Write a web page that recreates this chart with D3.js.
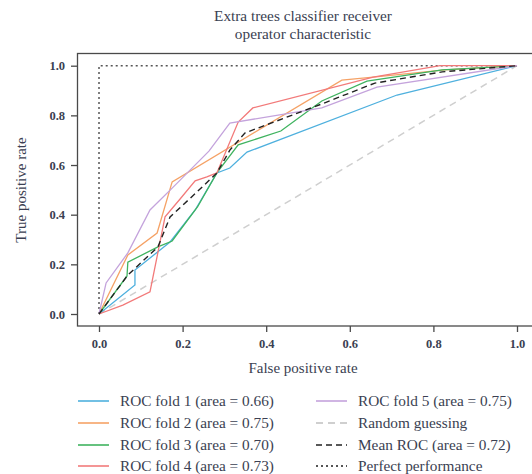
<!DOCTYPE html>
<html>
<head>
<style>
  body, html { margin: 0; padding: 0; background: #fff; }
  svg { display: block; }
  text { font-family: "Liberation Serif", "DejaVu Serif", serif; fill: #3b3f52; }
</style>
</head>
<body>
<svg id="svg" width="532" height="474"></svg>
<script src="https://d3js.org/d3.v7.min.js"></script>
<script>
// ROC curves, [false positive rate, true positive rate]
const fold1 = [[0,0],[0.086,0.117],[0.086,0.177],[0.170,0.290],[0.230,0.419],[0.282,0.568],
  [0.313,0.588],[0.354,0.652],[0.713,0.882],[1,1]]
const fold2 = [[0,0],[0.069,0.238],[0.139,0.326],[0.175,0.532],[0.581,0.942],[0.656,0.954],
  [0.828,0.983],[1,1]]
const fold3 = [[0,0],[0.067,0.153],[0.069,0.209],[0.141,0.270],[0.175,0.294],[0.236,0.432],
  [0.282,0.568],[0.333,0.681],[0.435,0.737],[0.533,0.858],[0.641,0.938],[0.821,0.983],[1,1]]
const fold4 = [[0,0],[0.057,0.036],[0.122,0.089],[0.158,0.391],[0.194,0.463],[0.230,0.536],
  [0.258,0.552],[0.282,0.568],[0.333,0.773],[0.368,0.830],[0.656,0.954],[0.816,1.0],[1,1]]
const fold5 = [[0,0],[0.017,0.125],[0.069,0.246],[0.122,0.419],[0.175,0.507],[0.263,0.656],
  [0.313,0.769],[0.533,0.830],[0.665,0.914],[1,1]]
const meanRoc = [[0,0],[0.069,0.157],[0.141,0.270],[0.170,0.391],[0.234,0.491],[0.282,0.568],
  [0.313,0.660],[0.349,0.729],[0.533,0.846],[0.660,0.930],[0.821,0.975],[1,1]]
const randomLine = [[0,0],[1,1]]
const perfectLine = [[0,0],[0,1],[1,1]]

const labels = ['ROC fold 1 (area = 0.66)', 'ROC fold 2 (area = 0.75)', 'ROC fold 3 (area = 0.70)',
  'ROC fold 4 (area = 0.73)', 'ROC fold 5 (area = 0.75)', 'Random guessing',
  'Mean ROC (area = 0.72)', 'Perfect performance']
const ticks = [0, 0.2, 0.4, 0.6, 0.8, 1.0]

const series = [
  { data: fold1, color: '#4eb0de', width: 1.3, dash: null },
  { data: fold2, color: '#f5a266', width: 1.3, dash: null },
  { data: fold3, color: '#3fb35f', width: 1.3, dash: null },
  { data: fold4, color: '#f27a7a', width: 1.3, dash: null },
  { data: fold5, color: '#c4a3dc', width: 1.3, dash: null },
  { data: randomLine, color: '#cfcfcf', width: 1.5, dash: '7,5' },
  { data: meanRoc, color: '#222', width: 1.4, dash: '6,4' },
  { data: perfectLine, color: '#555', width: 1.5, dash: '2,3' }
]

const svg = d3.select('#svg')

const x = d3.scaleLinear().domain([0, 1]).range([99, 517])
const y = d3.scaleLinear().domain([0, 1]).range([314, 65.7])

// frame (right side runs off the picture)
svg.append('rect')
  .attr('x', 77.5).attr('y', 53.5)
  .attr('width', 480).attr('height', 272.5)
  .attr('fill', 'none').attr('stroke', '#4a4a4a').attr('stroke-width', 1.3)

// axes
const xAxis = svg.append('g')
  .attr('transform', 'translate(0,326)')
  .call(d3.axisBottom(x).tickValues(ticks).tickFormat(d3.format('.1f')).tickSize(6).tickPadding(7))
const yAxis = svg.append('g')
  .attr('transform', 'translate(77,0)')
  .call(d3.axisLeft(y).tickValues(ticks).tickFormat(d3.format('.1f')).tickSize(6).tickPadding(6))
for (const ax of [xAxis, yAxis]) {
  ax.select('.domain').remove()
  ax.selectAll('line').attr('stroke', '#4a4a4a').attr('stroke-width', 1.3)
  ax.selectAll('text').attr('font-size', 12.5).attr('font-weight', 'bold')
    .attr('fill', '#4a5068').attr('font-family', '"Liberation Serif", serif')
}

// lines, background ones first
const lineGen = d3.line().x(d => x(d[0])).y(d => y(d[1]))
const drawOrder = [5, 7, 0, 1, 2, 3, 4, 6]
drawOrder.forEach(i => {
  const s = series[i]
  svg.append('path')
    .attr('d', lineGen(s.data))
    .attr('fill', 'none')
    .attr('stroke', s.color)
    .attr('stroke-width', s.width)
    .attr('stroke-dasharray', s.dash)
})

// titles
svg.append('text').attr('x', 303).attr('y', 21).attr('text-anchor', 'middle')
  .attr('font-size', 15.3).text('Extra trees classifier receiver')
svg.append('text').attr('x', 303).attr('y', 39).attr('text-anchor', 'middle')
  .attr('font-size', 15.3).text('operator characteristic')
svg.append('text').attr('x', 303).attr('y', 373).attr('text-anchor', 'middle')
  .attr('font-size', 15).text('False positive rate')
svg.append('text').attr('transform', 'translate(26,190) rotate(-90)').attr('text-anchor', 'middle')
  .attr('font-size', 15).text('True positive rate')

// legend, two columns of four
const rowY = [401, 423, 445, 466]
const legend = svg.append('g')
series.forEach((s, i) => {
  const col = Math.floor(i / 4)
  const row = i % 4
  const lx = col === 0 ? 78 : 316
  const ly = rowY[row]
  legend.append('line')
    .attr('x1', lx).attr('x2', lx + 31)
    .attr('y1', ly).attr('y2', ly)
    .attr('stroke', s.color).attr('stroke-width', s.width + 0.3)
    .attr('stroke-dasharray', s.dash)
  legend.append('text')
    .attr('x', lx + 42).attr('y', ly + 5)
    .attr('font-size', 15.3)
    .text(labels[i])
})
</script>
</body>
</html>
